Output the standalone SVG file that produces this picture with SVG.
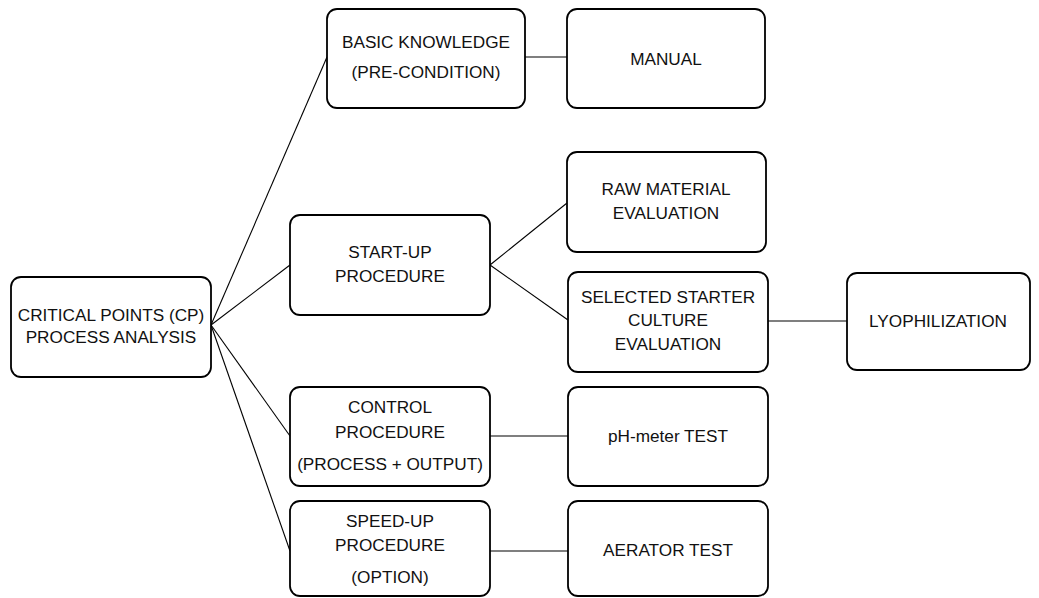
<svg xmlns="http://www.w3.org/2000/svg" width="1039" height="598" viewBox="0 0 1039 598">
<style>
.box{fill:#fff;stroke:#000;stroke-width:1.8}
.t{font-family:"Liberation Sans",Arial,sans-serif;font-size:17.2px;fill:#111;text-anchor:middle}
.ln{stroke:#000;stroke-width:1.1;fill:none}
</style>
<rect width="1039" height="598" fill="#fff"/>
<g id="connectors">
<line class="ln" x1="211" y1="325" x2="327" y2="57"/>
<line class="ln" x1="211" y1="325" x2="290" y2="265"/>
<line class="ln" x1="211" y1="325" x2="290" y2="436"/>
<line class="ln" x1="211" y1="325" x2="290" y2="551"/>
<line class="ln" x1="525" y1="57" x2="567" y2="57"/>
<line class="ln" x1="490" y1="265" x2="567" y2="203"/>
<line class="ln" x1="490" y1="265" x2="568" y2="320"/>
<line class="ln" x1="768" y1="321" x2="847" y2="321"/>
<line class="ln" x1="490" y1="436" x2="568" y2="436"/>
<line class="ln" x1="490" y1="551" x2="568" y2="551"/>
</g>
<g id="cp">
<rect class="box" x="11" y="277" width="200" height="100" rx="10"/>
<text class="t" x="111" y="321">CRITICAL POINTS (CP)</text>
<text class="t" x="111" y="343">PROCESS ANALYSIS</text>
</g>
<g id="basic">
<rect class="box" x="327" y="9" width="198" height="99" rx="10"/>
<text class="t" x="426" y="48">BASIC KNOWLEDGE</text>
<text class="t" x="426" y="78">(PRE-CONDITION)</text>
</g>
<g id="manual">
<rect class="box" x="567" y="9" width="198" height="99" rx="10"/>
<text class="t" x="666" y="65">MANUAL</text>
</g>
<g id="startup">
<rect class="box" x="290" y="215" width="200" height="100" rx="10"/>
<text class="t" x="390" y="258">START-UP</text>
<text class="t" x="390" y="282">PROCEDURE</text>
</g>
<g id="raw">
<rect class="box" x="567" y="152" width="199" height="100" rx="10"/>
<text class="t" x="666" y="195">RAW MATERIAL</text>
<text class="t" x="666" y="219">EVALUATION</text>
</g>
<g id="selected">
<rect class="box" x="568" y="272" width="200" height="100" rx="10"/>
<text class="t" x="668" y="303">SELECTED STARTER</text>
<text class="t" x="668" y="326">CULTURE</text>
<text class="t" x="668" y="350">EVALUATION</text>
</g>
<g id="lyo">
<rect class="box" x="847" y="273" width="183" height="97" rx="10"/>
<text class="t" x="938" y="327">LYOPHILIZATION</text>
</g>
<g id="control">
<rect class="box" x="290" y="387" width="200" height="99" rx="10"/>
<text class="t" x="390" y="413">CONTROL</text>
<text class="t" x="390" y="438">PROCEDURE</text>
<text class="t" x="390" y="470">(PROCESS + OUTPUT)</text>
</g>
<g id="ph">
<rect class="box" x="568" y="387" width="200" height="99" rx="10"/>
<text class="t" x="668" y="442">pH-meter TEST</text>
</g>
<g id="speedup">
<rect class="box" x="290" y="501" width="200" height="95" rx="10"/>
<text class="t" x="390" y="527">SPEED-UP</text>
<text class="t" x="390" y="551">PROCEDURE</text>
<text class="t" x="390" y="583">(OPTION)</text>
</g>
<g id="aerator">
<rect class="box" x="568" y="501" width="200" height="95" rx="10"/>
<text class="t" x="668" y="556">AERATOR TEST</text>
</g>
</svg>
